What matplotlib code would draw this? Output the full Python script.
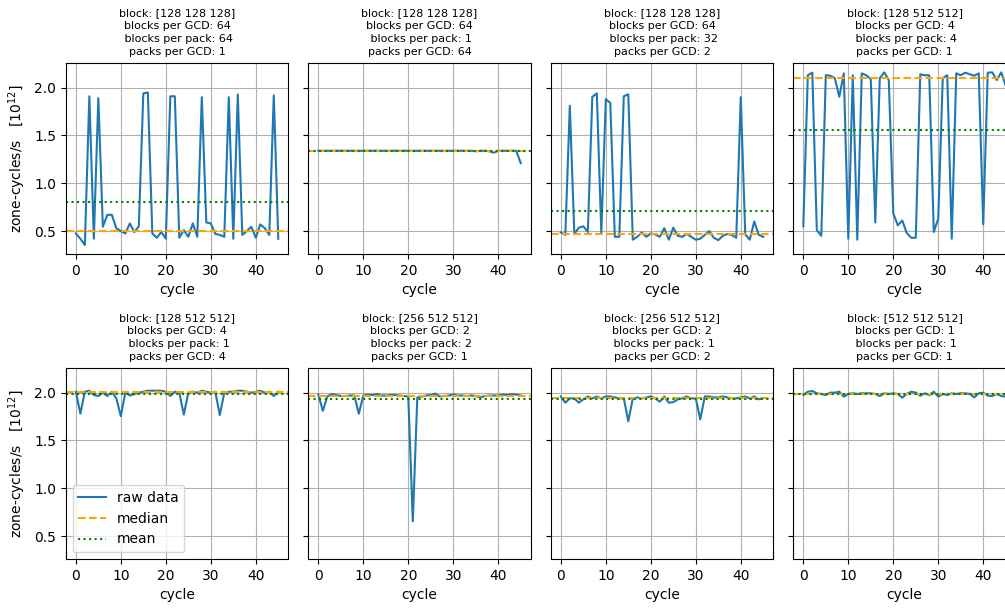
import numpy as np
import matplotlib
matplotlib.use('Agg')
import matplotlib.pyplot as plt

# zone-cycles per second [1e12] for 46 cycles, one list per configuration
rate_a = [0.476, 0.42, 0.354, 1.91, 0.42, 1.89, 0.545, 0.67, 0.67, 0.53,
          0.50, 0.475, 0.58, 0.49, 0.55, 1.94, 1.95, 0.475, 0.43, 0.49,
          0.42, 1.91, 1.91, 0.43, 0.51, 0.44, 0.58, 0.44, 1.90, 0.59,
          0.58, 0.47, 0.46, 0.44, 1.90, 0.42, 1.93, 0.46, 0.50, 0.545,
          0.43, 0.57, 0.53, 0.46, 1.92, 0.42]
rate_b = [1.34, 1.34, 1.34, 1.34, 1.34, 1.34, 1.34, 1.34, 1.34, 1.34,
          1.34, 1.34, 1.34, 1.34, 1.34, 1.34, 1.34, 1.34, 1.34, 1.34,
          1.34, 1.34, 1.34, 1.34, 1.34, 1.34, 1.34, 1.34, 1.34, 1.34,
          1.34, 1.34, 1.34, 1.34, 1.34, 1.335, 1.34, 1.34, 1.335, 1.32,
          1.34, 1.34, 1.34, 1.34, 1.34, 1.21]
rate_c = [0.486, 0.46, 1.81, 0.47, 0.535, 0.55, 0.49, 1.905, 1.94, 0.48,
          1.88, 1.84, 0.44, 0.44, 1.91, 1.93, 0.41, 0.44, 0.486, 0.44,
          0.475, 0.465, 0.44, 0.53, 0.41, 0.535, 0.45, 0.44, 0.47, 0.44,
          0.41, 0.42, 0.46, 0.50, 0.43, 0.405, 0.45, 0.47, 0.46, 0.43,
          1.90, 0.465, 0.41, 0.60, 0.46, 0.44]
rate_d = [0.55, 2.13, 2.157, 0.51, 0.45, 2.13, 2.125, 2.10, 1.905, 2.15,
          0.42, 2.13, 0.41, 2.15, 2.13, 2.09, 0.59, 2.10, 2.16, 2.08,
          0.685, 0.56, 0.61, 0.48, 0.43, 0.43, 2.14, 2.13, 2.13, 0.49,
          0.63, 2.10, 2.13, 0.42, 2.15, 2.13, 2.157, 2.14, 2.125, 2.15,
          0.57, 2.157, 2.16, 2.08, 2.16, 2.02]
rate_e = [2.01, 1.78, 2.01, 2.02, 1.975, 1.965, 2.0, 1.965, 2.01, 1.94,
          1.755, 2.0, 1.97, 1.985, 2.0, 2.01, 2.02, 2.02, 2.02, 2.02,
          2.01, 1.965, 2.01, 2.0, 1.77, 2.0, 2.01, 2.0, 2.02, 2.01,
          2.0, 2.01, 1.765, 2.0, 2.01, 2.01, 2.02, 2.02, 2.01, 2.0,
          2.01, 2.02, 2.0, 2.01, 1.965, 2.01]
rate_f = [1.98, 1.81, 1.96, 1.985, 1.975, 1.965, 1.965, 1.97, 1.97, 1.78,
          1.97, 1.98, 1.975, 1.985, 1.97, 1.97, 1.975, 1.975, 1.97, 1.965,
          1.96, 0.654, 1.95, 1.96, 1.97, 1.975, 1.99, 1.96, 1.965, 1.97,
          1.98, 1.97, 1.97, 1.965, 1.97, 1.965, 1.95, 1.965, 1.97, 1.97,
          1.97, 1.98, 1.975, 1.985, 1.98, 1.97]
rate_g = [1.96, 1.895, 1.94, 1.94, 1.895, 1.93, 1.96, 1.94, 1.96, 1.94,
          1.96, 1.96, 1.95, 1.94, 1.94, 1.70, 1.94, 1.95, 1.94, 1.95,
          1.96, 1.94, 1.905, 1.96, 1.895, 1.90, 1.93, 1.94, 1.96, 1.94,
          1.94, 1.72, 1.96, 1.96, 1.95, 1.95, 1.96, 1.95, 1.94, 1.94,
          1.95, 1.96, 1.94, 1.96, 1.93, 1.945]
rate_h = [1.975, 2.01, 2.017, 1.993, 1.986, 1.975, 2.0, 2.0, 2.01, 1.958,
          1.986, 1.993, 1.986, 1.993, 1.993, 1.993, 1.986, 1.965, 1.993, 1.986,
          1.993, 1.986, 1.948, 1.986, 2.01, 2.0, 1.968, 1.993, 1.975, 2.01,
          1.958, 1.986, 1.975, 1.993, 1.986, 1.993, 1.993, 1.986, 1.951, 1.993,
          2.0, 1.968, 1.965, 1.986, 1.965, 1.958]

blocks = ['[128 128 128]', '[128 128 128]', '[128 128 128]', '[128 512 512]',
          '[128 512 512]', '[256 512 512]', '[256 512 512]', '[512 512 512]']
blocks_per_gcd = [64, 64, 64, 4, 4, 2, 2, 1]
blocks_per_pack = [64, 1, 32, 4, 1, 2, 1, 1]
packs_per_gcd = [1, 64, 2, 1, 4, 1, 2, 1]

rates = [rate_a, rate_b, rate_c, rate_d, rate_e, rate_f, rate_g, rate_h]

fig, axes = plt.subplots(2, 4, figsize=(10.05, 6.08), dpi=100,
                         sharex=True, sharey=True)
fig.subplots_adjust(left=0.0654, right=1.0108, top=0.8959, bottom=0.0806,
                    wspace=0.089, hspace=0.599)

for i, ax in enumerate(axes.flat):
    y = np.array(rates[i])
    x = np.arange(len(y))
    ax.plot(x, y, color='#1f77b4', label='raw data')
    ax.axhline(np.median(y), color='orange', linestyle='--', label='median')
    ax.axhline(np.mean(y), color='green', linestyle=':', label='mean')
    ax.grid(True)
    ax.set_title(f'block: {blocks[i]}\nblocks per GCD: {blocks_per_gcd[i]}\n'
                 f' blocks per pack: {blocks_per_pack[i]}\npacks per GCD: {packs_per_gcd[i]}',
                 fontsize=8, linespacing=1.35)
    ax.set_xlabel('cycle')
    ax.tick_params(axis='x', labelbottom=True)

for ax in axes[:, 0]:
    ax.set_ylabel('zone-cycles/s   [$10^{12}$]')

axes[0, 0].set_ylim(0.26, 2.255)
axes[1, 0].legend(loc='lower left')

plt.savefig('out.png')
